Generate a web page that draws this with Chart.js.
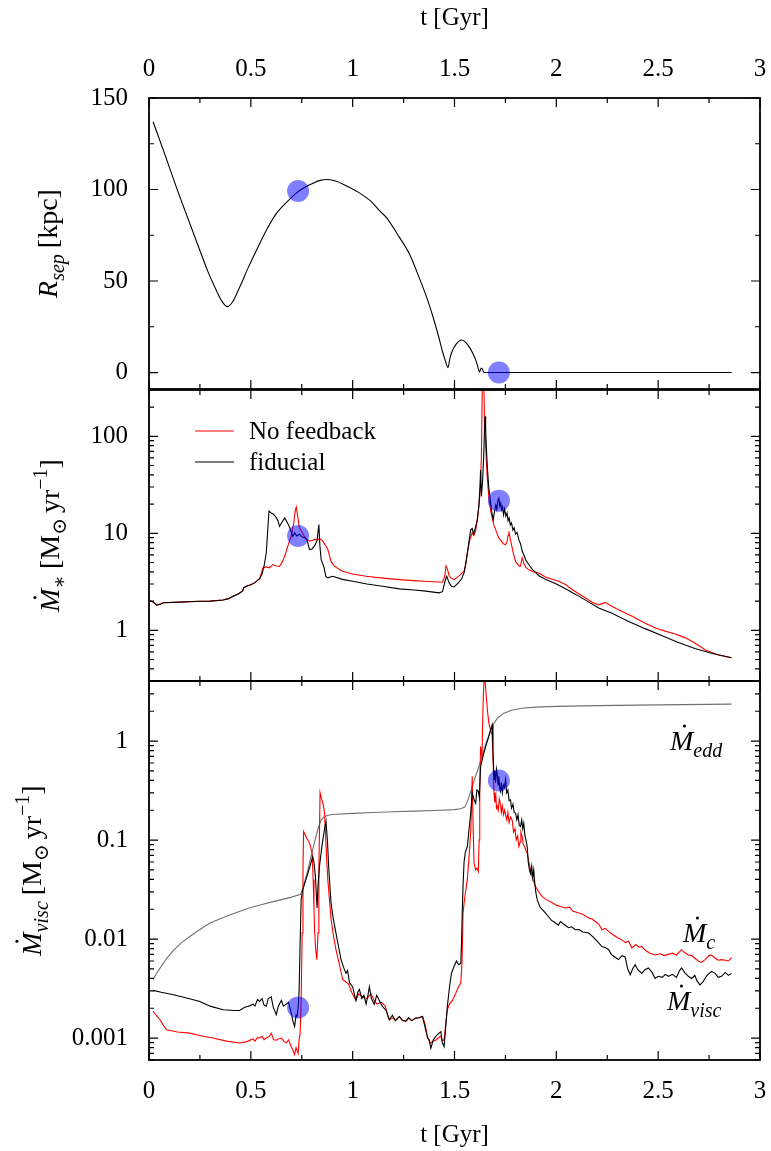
<!DOCTYPE html>
<html><head><meta charset="utf-8">
<script src="https://cdn.jsdelivr.net/npm/chart.js@4.4.1/dist/chart.umd.min.js"></script>
<style>
html,body{margin:0;padding:0;background:#fff;}
#wrap{position:relative;width:771px;height:1151px;overflow:hidden;background:#fff;}
canvas{position:absolute;left:0;}
</style>
</head><body><div id="wrap">
<canvas id="c1" width="771" height="409" style="top:0px"></canvas>
<canvas id="c2" width="771" height="331" style="top:370px"></canvas>
<canvas id="c3" width="771" height="490" style="top:661px"></canvas>
</div>
<script>
// ---------------- DATA ----------------
const tTicks = [0, 0.5, 1, 1.5, 2, 2.5, 3];
const tTickLabels = ['0', '0.5', '1', '1.5', '2', '2.5', '3'];
const tMinor = [0.25, 0.75, 1.25, 1.75, 2.25, 2.75];

const rsepTicks = [0, 50, 100, 150];
const rsepTickLabels = ['0', '50', '100', '150'];
const rsepMinor = [25, 75, 125];

const sfrTicks = [1, 10, 100];
const sfrTickLabels = ['1', '10', '100'];
const sfrMinor = [0.3,0.4,0.5,0.6,0.7,0.8,0.9,2,3,4,5,6,7,8,9,20,30,40,50,60,70,80,90,200];

const mdotTicks = [0.001, 0.01, 0.1, 1];
const mdotTickLabels = ['0.001', '0.01', '0.1', '1'];
const mdotMinor = [0.0006,0.0007,0.0008,0.0009,0.002,0.003,0.004,0.005,0.006,0.007,0.008,0.009,
  0.02,0.03,0.04,0.05,0.06,0.07,0.08,0.09,0.2,0.3,0.4,0.5,0.6,0.7,0.8,0.9,2,3,4];

const seriesNames = ['No feedback', 'fiducial'];

// [t (Gyr), R_sep (kpc)]
const rsep = [[0.02,137],[0.08,118.5],[0.135,101],[0.19,84.5],[0.25,66.7],[0.29,55],[0.331,44.8],[0.355,39.5],
  [0.385,36],[0.41,38.5],[0.445,46.6],[0.49,58],[0.535,68.5],[0.58,78.5],[0.625,86.8],[0.68,93.5],[0.731,98.7],
  [0.77,101.5],[0.803,103.3],[0.84,105],[0.878,105.5],[0.92,104.5],[0.96,102.5],[1.025,98.7],[1.09,93.5],
  [1.131,88.5],[1.163,85],[1.229,74],[1.28,64.5],[1.326,52],[1.37,39],[1.40,28.3],[1.42,20.5],[1.44,11.9],
  [1.455,6.5],[1.468,2.7],[1.478,8],[1.49,12],[1.51,15.8],[1.535,17.8],[1.555,16.5],[1.579,12.8],[1.60,8],
  [1.611,4.6],[1.623,0.3],[1.628,1.8],[1.633,2.5],[1.64,1],[1.645,0],[2.86,0]];

// [t, SFR] fiducial
const sfrFiducial = [[0.005,2.02],[0.02,1.96],[0.038,1.82],[0.055,1.86],[0.07,1.92],[0.15,1.95],[0.25,1.99],[0.30,2.0],
  [0.364,2.05],[0.39,2.12],[0.413,2.24],[0.44,2.38],[0.46,2.55],[0.465,2.75],[0.478,2.84],[0.50,2.95],[0.52,3.1],
  [0.543,3.4],[0.555,3.8],[0.565,4.6],[0.576,6.3],[0.582,10],[0.589,16.9],[0.60,16.2],[0.61,15.8],[0.625,14.5],
  [0.633,13.5],[0.641,11.8],[0.655,13.2],[0.666,14.4],[0.678,13],[0.69,11.6],[0.706,9.3],[0.715,10.1],[0.725,9.4],
  [0.739,9.8],[0.75,9.2],[0.764,9],[0.776,8.5],[0.788,6.8],[0.80,6.9],[0.813,7.4],[0.825,8.4],[0.834,12.3],
  [0.839,7.5],[0.845,5.4],[0.86,4.4],[0.868,3.6],[0.878,3.47],[0.89,3.55],[0.902,3.6],[0.95,3.35],[1.0,3.2],
  [1.07,3.0],[1.147,2.84],[1.229,2.67],[1.3,2.6],[1.35,2.55],[1.424,2.43],[1.441,2.5],[1.455,3.3],[1.462,3.6],
  [1.473,3.1],[1.485,2.85],[1.498,2.8],[1.52,3.1],[1.535,3.4],[1.547,3.9],[1.555,4.8],[1.563,6.2],[1.572,8.5],
  [1.58,10.9],[1.587,11.2],[1.594,9.8],[1.604,11.8],[1.612,13.5],[1.62,20],[1.625,30],[1.628,45],[1.632,24],
  [1.638,35],[1.643,60],[1.647,110],[1.650,161],[1.653,120],[1.656,80],[1.661,49],[1.668,30],[1.677,21],
  [1.684,16],[1.69,13.8],[1.697,17],[1.703,19.5],[1.708,17.5],[1.713,22],[1.718,23],[1.722,19],[1.727,20.5],
  [1.731,17.5],[1.736,18.8],[1.741,15.5],[1.746,17.8],[1.752,15],[1.758,16.2],[1.763,13.5],[1.768,14.4],
  [1.774,12.2],[1.78,12.8],[1.787,10.8],[1.793,11.4],[1.80,9.8],[1.807,10.2],[1.816,8.6],[1.824,7.8],
  [1.832,6.6],[1.84,6],[1.85,5.3],[1.865,4.76],[1.88,4.3],[1.90,3.9],[1.914,3.65],[1.947,3.35],[2.0,3.0],
  [2.05,2.65],[2.077,2.45],[2.11,2.25],[2.16,1.95],[2.208,1.7],[2.273,1.5],[2.35,1.25],[2.436,1.04],
  [2.52,0.88],[2.599,0.75],[2.68,0.65],[2.762,0.58],[2.86,0.52]];

// [t, SFR] no feedback
const sfrNoFeedback = [[0.005,2.02],[0.02,1.96],[0.038,1.82],[0.055,1.86],[0.07,1.92],[0.15,1.95],[0.25,1.99],[0.30,2.0],
  [0.364,2.05],[0.39,2.12],[0.413,2.24],[0.44,2.38],[0.46,2.55],[0.465,2.75],[0.478,2.84],[0.50,2.95],[0.52,3.1],
  [0.543,3.4],[0.552,3.9],[0.559,4.4],[0.575,4.5],[0.59,4.4],[0.608,4.76],[0.625,4.6],[0.641,4.55],[0.655,5.1],
  [0.666,5.8],[0.68,7.2],[0.698,9.3],[0.71,12.5],[0.718,17],[0.723,18.7],[0.73,15],[0.738,11.5],[0.747,10.6],
  [0.76,9.5],[0.775,8.6],[0.788,8.3],[0.80,8.4],[0.815,8.7],[0.825,8.5],[0.837,8.8],[0.85,8.5],[0.865,7.6],
  [0.878,6.8],[0.887,5.8],[0.894,5.1],[0.91,4.6],[0.93,4.3],[0.951,4.06],[1.0,3.8],[1.066,3.6],[1.15,3.45],
  [1.229,3.33],[1.3,3.25],[1.35,3.2],[1.441,3.13],[1.452,3.6],[1.458,4.6],[1.465,4.3],[1.473,3.7],[1.48,3.5],
  [1.498,3.33],[1.52,3.6],[1.547,4.06],[1.555,4.8],[1.563,6.3],[1.575,8.5],[1.587,10.1],[1.595,9.5],[1.604,10.7],
  [1.612,14],[1.62,19],[1.627,30],[1.632,60],[1.637,400],[1.643,500],[1.647,150],[1.653,79],[1.66,40],[1.669,23],
  [1.677,17.5],[1.685,14.4],[1.694,12],[1.702,10.9],[1.71,9.8],[1.718,8.9],[1.728,8.4],[1.74,7.8],[1.751,7.6],
  [1.758,8.2],[1.763,9.5],[1.767,10.5],[1.775,8.5],[1.785,6.8],[1.792,5.9],[1.80,5.1],[1.81,4.8],[1.818,4.55],
  [1.824,4.6],[1.832,5.6],[1.84,4.9],[1.85,4.45],[1.865,4.2],[1.89,4.0],[1.914,3.9],[1.947,3.55],[1.98,3.35],
  [2.012,3.2],[2.045,2.96],[2.077,2.63],[2.11,2.38],[2.142,2.16],[2.175,1.95],[2.208,1.83],[2.24,1.94],
  [2.27,1.78],[2.305,1.63],[2.37,1.4],[2.436,1.18],[2.49,1.05],[2.534,0.98],[2.58,0.92],[2.632,0.84],
  [2.68,0.74],[2.73,0.63],[2.79,0.56],[2.86,0.52]];

// [t, Mdot_visc] fiducial
const mdotVisc = [[0.02,0.00303],[0.06,0.0029],[0.12,0.00274],[0.18,0.00255],[0.25,0.00234],[0.30,0.0021],[0.364,0.00193],
  [0.42,0.0019],[0.445,0.0019],[0.47,0.00205],[0.49,0.0021],[0.51,0.0022],[0.52,0.0021],[0.533,0.00245],[0.543,0.00234],
  [0.555,0.0025],[0.565,0.00215],[0.576,0.0021],[0.585,0.0025],[0.60,0.0026],[0.61,0.00205],[0.625,0.00172],
  [0.635,0.0021],[0.65,0.0024],[0.66,0.0021],[0.674,0.0022],[0.685,0.0023],[0.698,0.0018],[0.706,0.0015],
  [0.715,0.00131],[0.722,0.0017],[0.727,0.00165],[0.733,0.0021],[0.737,0.00296],[0.742,0.009],[0.747,0.025],
  [0.755,0.0315],[0.78,0.046],[0.804,0.068],[0.81,0.06],[0.817,0.043],[0.825,0.0206],[0.83,0.035],[0.837,0.054],
  [0.85,0.09],[0.862,0.13],[0.869,0.155],[0.876,0.1],[0.882,0.054],[0.888,0.035],[0.894,0.023],[0.905,0.016],
  [0.918,0.0115],[0.93,0.0085],[0.943,0.0062],[0.955,0.0052],[0.967,0.0045],[0.975,0.0048],[0.985,0.0036],
  [1.0,0.0033],[1.008,0.0028],[1.016,0.0024],[1.025,0.0029],[1.033,0.0031],[1.045,0.0025],[1.055,0.0027],
  [1.066,0.0022],[1.075,0.0027],[1.082,0.0033],[1.092,0.0025],[1.106,0.0022],[1.118,0.0027],[1.131,0.0024],
  [1.145,0.0021],[1.164,0.0019],[1.172,0.0017],[1.18,0.00153],[1.195,0.0017],[1.21,0.0015],[1.229,0.00165],
  [1.245,0.0015],[1.261,0.00148],[1.275,0.0016],[1.29,0.0015],[1.31,0.00159],[1.325,0.0016],[1.343,0.00165],
  [1.355,0.0013],[1.368,0.001],[1.375,0.00096],[1.384,0.00079],[1.395,0.00095],[1.408,0.00104],[1.42,0.0011],
  [1.433,0.00116],[1.44,0.0009],[1.449,0.00082],[1.457,0.0013],[1.465,0.0021],[1.475,0.0032],[1.485,0.0045],
  [1.498,0.0053],[1.51,0.006],[1.52,0.0055],[1.531,0.0057],[1.535,0.01],[1.538,0.0183],[1.542,0.035],[1.547,0.06],
  [1.553,0.075],[1.563,0.086],[1.57,0.12],[1.58,0.19],[1.587,0.3],[1.595,0.26],[1.604,0.235],[1.61,0.32],
  [1.617,0.31],[1.622,0.27],[1.628,0.55],[1.64,0.7],[1.653,0.88],[1.665,1.05],[1.675,1.25],[1.685,1.46],
  [1.689,0.8],[1.694,0.41],[1.698,0.5],[1.702,0.38],[1.706,0.52],[1.71,0.46],[1.714,0.36],[1.718,0.44],
  [1.722,0.33],[1.726,0.31],[1.73,0.38],[1.735,0.3],[1.74,0.36],[1.745,0.34],[1.751,0.41],[1.756,0.3],
  [1.762,0.32],[1.768,0.25],[1.775,0.255],[1.78,0.21],[1.787,0.23],[1.793,0.19],[1.80,0.187],[1.806,0.16],
  [1.812,0.18],[1.818,0.14],[1.824,0.137],[1.83,0.16],[1.835,0.13],[1.840,0.148],[1.846,0.11],[1.851,0.1],
  [1.857,0.086],[1.862,0.06],[1.868,0.05],[1.873,0.046],[1.879,0.055],[1.884,0.042],[1.889,0.05],[1.895,0.035],
  [1.90,0.029],[1.906,0.025],[1.92,0.021],[1.935,0.0195],[1.947,0.0183],[1.96,0.017],[1.975,0.0155],
  [1.996,0.0145],[2.01,0.0138],[2.02,0.015],[2.045,0.0137],[2.06,0.013],[2.075,0.0133],[2.093,0.0124],
  [2.11,0.0125],[2.13,0.0118],[2.159,0.0115],[2.18,0.0105],[2.20,0.0095],[2.224,0.0084],[2.24,0.0082],
  [2.257,0.0078],[2.27,0.007],[2.29,0.0065],[2.305,0.0062],[2.322,0.0068],[2.338,0.0066],[2.35,0.005],
  [2.363,0.00435],[2.375,0.005],[2.387,0.0055],[2.40,0.0049],[2.42,0.0045],[2.435,0.0049],[2.452,0.0051],
  [2.47,0.0046],[2.485,0.004],[2.50,0.0042],[2.52,0.0041],[2.535,0.0044],[2.55,0.0042],[2.57,0.0044],
  [2.59,0.0041],[2.605,0.0048],[2.615,0.0051],[2.63,0.0046],[2.648,0.0042],[2.665,0.004],[2.68,0.0043],
  [2.69,0.0038],[2.705,0.00345],[2.72,0.0037],[2.74,0.0043],[2.762,0.0047],[2.78,0.0045],[2.795,0.0041],
  [2.811,0.0042],[2.83,0.0046],[2.845,0.0043],[2.86,0.0045]];

// [t, Mdot_c] no feedback
const mdotC = [[0.02,0.00186],[0.035,0.0017],[0.054,0.00153],[0.07,0.00135],[0.086,0.00121],[0.14,0.00115],[0.2,0.00112],
  [0.26,0.00105],[0.314,0.001],[0.38,0.00093],[0.445,0.00089],[0.48,0.00092],[0.51,0.00098],[0.52,0.00093],
  [0.533,0.00101],[0.543,0.001],[0.555,0.00104],[0.565,0.00096],[0.576,0.001],[0.59,0.00104],[0.60,0.00112],
  [0.612,0.00096],[0.625,0.00095],[0.635,0.00098],[0.65,0.001],[0.662,0.00093],[0.674,0.00089],[0.685,0.00096],
  [0.698,0.00082],[0.706,0.00076],[0.715,0.00068],[0.722,0.0008],[0.727,0.00075],[0.732,0.0007],[0.737,0.00096],
  [0.742,0.0011],[0.747,0.0024],[0.752,0.0115],[0.756,0.05],[0.759,0.122],[0.765,0.115],[0.775,0.104],
  [0.788,0.0935],[0.801,0.074],[0.806,0.04],[0.81,0.02],[0.813,0.0124],[0.818,0.008],[0.824,0.0062],
  [0.830,0.0115],[0.834,0.05],[0.84,0.3],[0.847,0.26],[0.855,0.23],[0.862,0.187],[0.868,0.1],[0.873,0.06],
  [0.878,0.0397],[0.886,0.025],[0.894,0.0159],[0.905,0.011],[0.918,0.0078],[0.935,0.0055],[0.951,0.0039],
  [0.965,0.0037],[0.98,0.0035],[0.995,0.0029],[1.016,0.0024],[1.03,0.0028],[1.05,0.0026],[1.07,0.0025],
  [1.09,0.0028],[1.105,0.0024],[1.12,0.0022],[1.14,0.0023],[1.16,0.0021],[1.172,0.0017],[1.18,0.00153],
  [1.195,0.0016],[1.21,0.0015],[1.229,0.00165],[1.245,0.0015],[1.261,0.00148],[1.275,0.0016],[1.29,0.0015],
  [1.31,0.00159],[1.325,0.0016],[1.343,0.00165],[1.355,0.0014],[1.367,0.00104],[1.375,0.00095],[1.384,0.00089],
  [1.395,0.00093],[1.408,0.00095],[1.42,0.001],[1.433,0.00104],[1.44,0.00094],[1.449,0.00096],[1.457,0.0014],
  [1.465,0.00193],[1.475,0.0022],[1.49,0.0024],[1.505,0.0028],[1.52,0.0033],[1.531,0.0036],[1.537,0.006],
  [1.542,0.0183],[1.55,0.026],[1.563,0.04],[1.572,0.07],[1.58,0.127],[1.584,0.25],[1.587,0.44],[1.591,0.15],
  [1.596,0.0585],[1.604,0.05],[1.61,0.052],[1.617,0.048],[1.621,0.1],[1.624,0.31],[1.628,0.88],[1.632,0.75],
  [1.635,0.7],[1.638,1.5],[1.642,3.0],[1.647,5.0],[1.655,3.0],[1.662,2.0],[1.669,1.5],[1.677,1.3],[1.685,1.14],
  [1.69,0.6],[1.694,0.3],[1.698,0.24],[1.703,0.28],[1.706,0.21],[1.71,0.22],[1.715,0.2],[1.72,0.26],[1.726,0.23],
  [1.73,0.19],[1.735,0.22],[1.741,0.18],[1.746,0.2],[1.751,0.18],[1.757,0.16],[1.762,0.19],[1.768,0.15],
  [1.775,0.17],[1.783,0.16],[1.79,0.12],[1.797,0.13],[1.803,0.1],[1.81,0.11],[1.816,0.086],[1.822,0.095],
  [1.826,0.12],[1.832,0.109],[1.838,0.09],[1.845,0.085],[1.851,0.078],[1.857,0.074],[1.865,0.06],[1.873,0.05],
  [1.885,0.04],[1.898,0.034],[1.913,0.03],[1.93,0.027],[1.95,0.025],[1.98,0.0232],[2.0,0.022],[2.02,0.0213],
  [2.045,0.0206],[2.065,0.021],[2.08,0.0192],[2.11,0.0183],[2.13,0.0178],[2.159,0.0163],[2.175,0.0159],
  [2.2,0.0146],[2.21,0.014],[2.224,0.0124],[2.24,0.0128],[2.26,0.0118],[2.28,0.011],[2.305,0.0102],[2.322,0.0098],
  [2.34,0.0092],[2.355,0.0095],[2.371,0.0081],[2.39,0.0088],[2.405,0.0083],[2.42,0.0084],[2.44,0.0076],
  [2.46,0.0072],[2.485,0.0069],[2.51,0.0071],[2.53,0.0068],[2.55,0.007],[2.57,0.0072],[2.59,0.0069],
  [2.615,0.0078],[2.63,0.0073],[2.648,0.0069],[2.665,0.0068],[2.68,0.0064],[2.697,0.006],[2.713,0.0058],
  [2.73,0.0062],[2.75,0.0068],[2.762,0.0069],[2.78,0.0064],[2.795,0.0061],[2.811,0.0062],[2.83,0.0061],
  [2.845,0.006],[2.86,0.0065]];

// [t, Mdot_edd]
const mdotEdd = [[0.02,0.0039],[0.04,0.0046],[0.06,0.0053],[0.09,0.0065],[0.12,0.0077],[0.16,0.0092],[0.2,0.0106],
  [0.25,0.0125],[0.3,0.0145],[0.35,0.016],[0.4,0.0176],[0.45,0.0192],[0.5,0.0208],[0.55,0.0222],[0.6,0.0236],
  [0.65,0.025],[0.7,0.0265],[0.745,0.0283],[0.76,0.035],[0.78,0.05],[0.80,0.074],[0.815,0.1],[0.83,0.13],
  [0.845,0.16],[0.86,0.172],[0.88,0.178],[0.9,0.181],[1.0,0.186],[1.1,0.19],[1.2,0.193],[1.3,0.196],[1.4,0.199],
  [1.5,0.203],[1.53,0.207],[1.55,0.215],[1.565,0.25],[1.58,0.31],[1.6,0.42],[1.62,0.55],[1.64,0.75],[1.66,1.02],
  [1.685,1.4],[1.71,1.7],[1.74,1.9],[1.78,2.05],[1.83,2.14],[1.9,2.2],[2.0,2.24],[2.2,2.28],[2.5,2.32],[2.86,2.36]];

// highlighted epochs (blue circles)
const markT = [0.732, 1.718];
const rsepMark = [99.2, 0];
const sfrMark = [9.4, 21.7];
const mdotMark = [0.00204, 0.4];

// ---------------- RENDERING ----------------
const SERIF = "'Liberation Serif','DejaVu Serif','Noto Serif',serif";
Chart.defaults.font.family = SERIF;
Chart.defaults.font.size = 25;
Chart.defaults.color = '#000';

const pts = arr => arr.map(p => ({x: p[0], y: p[1]}));
const markPts = vals => markT.map((t, i) => ({x: t, y: vals[i]}));

function richText(ctx, parts, x, y, size, rot) {
  const f = p => (p.it ? 'italic ' : '') + Math.round((p.sub || p.sup) ? size * 0.7 : size) + 'px ' + SERIF;
  let w = 0;
  const ms = parts.map(p => { ctx.font = f(p); const m = ctx.measureText(p.t).width + (p.gap || 0); w += m; return m; });
  ctx.save();
  ctx.translate(x, y);
  if (rot) ctx.rotate(-Math.PI / 2);
  ctx.fillStyle = '#000'; ctx.textAlign = 'left'; ctx.textBaseline = 'alphabetic';
  let cx = rot ? -w / 2 : 0;
  parts.forEach((p, i) => {
    ctx.font = f(p);
    const dy = p.sub ? size * 0.25 : (p.sup ? -size * 0.42 : 0);
    ctx.fillText(p.t, cx, dy);
    if (p.dot) { ctx.beginPath(); ctx.arc(cx + ms[i] * 0.62, -size * 0.86, size * 0.055, 0, 2 * Math.PI); ctx.fill(); }
    cx += ms[i];
  });
  ctx.restore();
}

function panelPlugin(cfg) {
  return {
    id: 'panelDeco',
    afterDatasetsDraw(chart) {
      const ctx = chart.ctx, a = chart.chartArea, xs = chart.scales.x, ys = chart.scales.y;
      ctx.save();
      ctx.strokeStyle = '#000'; ctx.lineWidth = 1.2;
      ctx.beginPath();
      const tx = (v, len) => { const p = xs.getPixelForValue(v); ctx.moveTo(p, a.top); ctx.lineTo(p, a.top + len); ctx.moveTo(p, a.bottom); ctx.lineTo(p, a.bottom - len); };
      const ty = (v, len) => { const p = ys.getPixelForValue(v); ctx.moveTo(a.left, p); ctx.lineTo(a.left + len, p); ctx.moveTo(a.right, p); ctx.lineTo(a.right - len, p); };
      tTicks.forEach(v => tx(v, 9)); tMinor.forEach(v => tx(v, 5));
      cfg.yMajor.forEach(v => ty(v, 9)); cfg.yMinor.forEach(v => ty(v, 5));
      ctx.stroke();
      ctx.lineWidth = 1.8;
      ctx.strokeRect(a.left, a.top, a.right - a.left, a.bottom - a.top);
      ctx.restore();
    },
    afterDraw(chart) {
      const ctx = chart.ctx, a = chart.chartArea;
      const cy = (a.top + a.bottom) / 2;
      richText(ctx, cfg.title, cfg.titleX, cy + (cfg.titleDy || 0), 28, true);
      (cfg.notes || []).forEach(n => richText(ctx, n.parts, n.x, a.top + n.dy, 28, false));
      if (cfg.legend) {
        ctx.save();
        ctx.font = '25px ' + SERIF; ctx.textBaseline = 'middle'; ctx.fillStyle = '#000';
        cfg.legend.forEach(L => {
          const ds = chart.data.datasets[L.ds];
          const y = a.top + L.dy;
          ctx.strokeStyle = ds.borderColor; ctx.lineWidth = 1.2;
          ctx.beginPath(); ctx.moveTo(195, y); ctx.lineTo(234, y); ctx.stroke();
          ctx.fillText(ds.label, 249, y + 1);
        });
        ctx.restore();
      }
    }
  };
}

function xAxis(pos, show) {
  return {
    type: 'linear', position: pos, display: show, min: 0, max: 3,
    afterBuildTicks: s => { s.ticks = tTicks.map(v => ({value: v})); },
    afterFit: s => { if (show) s.height = pos === 'top' ? 98 : 91; s.paddingLeft = 0; s.paddingRight = 0; },
    grid: {display: false, drawTicks: false}, border: {display: false},
    ticks: {autoSkip: false, maxRotation: 0, padding: pos === 'top' ? 14 : 16, callback: (v, i) => tTickLabels[i]},
    title: {display: true, text: 't [Gyr]', font: {size: 25}, padding: pos === 'top' ? {top: 3, bottom: 0} : {top: 0, bottom: 1}}
  };
}
function yAxis(type, min, max, ticks, labels) {
  return {
    type, position: 'left', min, max,
    afterBuildTicks: s => { s.ticks = ticks.map(v => ({value: v})); },
    afterFit: s => { s.width = 149; s.paddingTop = 0; s.paddingBottom = 0; },
    grid: {display: false, drawTicks: false}, border: {display: false},
    ticks: {autoSkip: false, padding: 21, callback: (v, i) => labels[i]}
  };
}
const baseOpts = (scales, padding) => ({
  responsive: false, animation: false, devicePixelRatio: 1, events: [],
  layout: {padding},
  plugins: {legend: {display: false}, tooltip: {enabled: false}},
  elements: {point: {radius: 0}, line: {borderWidth: 1.1, tension: 0}},
  scales
});
const marker = vals => ({
  label: 'epoch', data: markPts(vals), showLine: false,
  pointRadius: 11, pointBackgroundColor: 'rgba(0,0,255,0.5)', pointBorderWidth: 0, borderColor: 'rgba(0,0,0,0)'
});
const line = (label, arr, color, extra) => Object.assign({label, data: pts(arr), borderColor: color, backgroundColor: color, fill: false, pointRadius: 0}, extra || {});

// Panel 1: separation
new Chart(document.getElementById('c1'), {
  type: 'line',
  data: {datasets: [marker(rsepMark), line('R_sep', rsep, '#000', {cubicInterpolationMode: 'monotone'})]},
  options: baseOpts({x: xAxis('top', true), y: yAxis('linear', -9, 150, rsepTicks, rsepTickLabels)}, {left: 0, right: 9, top: 0, bottom: 20}),
  plugins: [panelPlugin({
    yMajor: rsepTicks, yMinor: rsepMinor, titleX: 57,
    title: [{t: 'R', it: true}, {t: 'sep', it: true, sub: true, gap: 6}, {t: '[kpc]'}]
  })]
});

// Panel 2: star formation rate
new Chart(document.getElementById('c2'), {
  type: 'line',
  data: {datasets: [marker(sfrMark), line(seriesNames[1], sfrFiducial, '#000'), line(seriesNames[0], sfrNoFeedback, '#ff0000')]},
  options: baseOpts({x: xAxis('bottom', false), y: yAxis('logarithmic', 0.3, 300, sfrTicks, sfrTickLabels)}, {left: 0, right: 9, top: 20, bottom: 20}),
  plugins: [panelPlugin({
    yMajor: sfrTicks, yMinor: sfrMinor, titleX: 59,
    title: [{t: 'M', it: true, dot: true}, {t: '∗', sub: true, gap: 6}, {t: '[M'}, {t: '⊙', sub: true, gap: 5}, {t: 'yr'}, {t: '−1', sup: true}, {t: ']'}],
    legend: [{ds: 2, dy: 41}, {ds: 1, dy: 72}]
  })]
});

// Panel 3: accretion rates
new Chart(document.getElementById('c3'), {
  type: 'line',
  data: {datasets: [marker(mdotMark), line('Mdot_visc fiducial', mdotVisc, '#000'), line('Mdot_c no feedback', mdotC, '#ff0000'), line('Mdot_edd', mdotEdd, '#707070')]},
  options: baseOpts({x: xAxis('bottom', true), y: yAxis('logarithmic', 0.0006, 4.04, mdotTicks, mdotTickLabels)}, {left: 0, right: 9, top: 20, bottom: 0}),
  plugins: [panelPlugin({
    yMajor: mdotTicks, yMinor: mdotMinor, titleX: 41,
    title: [{t: 'M', it: true, dot: true}, {t: 'visc', it: true, sub: true, gap: 6}, {t: '[M'}, {t: '⊙', sub: true, gap: 5}, {t: 'yr'}, {t: '−1', sup: true}, {t: ']'}],
    notes: [
      {x: 670, dy: 69, parts: [{t: 'M', it: true, dot: true}, {t: 'edd', it: true, sub: true}]},
      {x: 683, dy: 261, parts: [{t: 'M', it: true, dot: true}, {t: 'c', it: true, sub: true}]},
      {x: 667, dy: 329, parts: [{t: 'M', it: true, dot: true}, {t: 'visc', it: true, sub: true}]}
    ]
  })]
});
</script>
</body></html>
